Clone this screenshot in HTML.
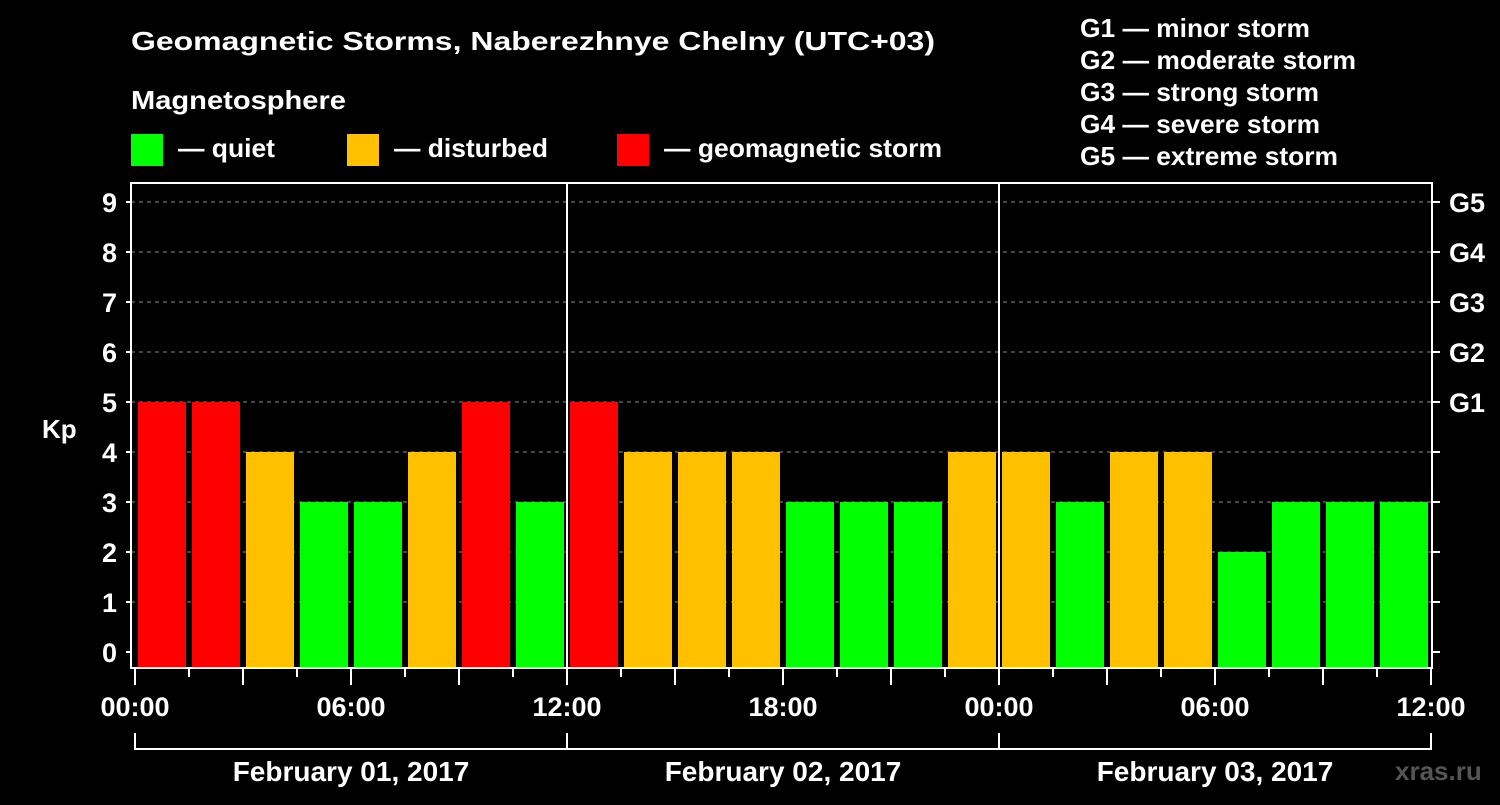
<!DOCTYPE html>
<html><head><meta charset="utf-8"><style>
body{margin:0;background:#000;width:1500px;height:800px;overflow:hidden}
svg text{font-family:"Liberation Sans",Arial,sans-serif;font-weight:bold;fill:#fff}
</style></head><body>
<svg id="chart" width="1500" height="800" xmlns="http://www.w3.org/2000/svg">
<text x="131" y="50" font-size="26" textLength="804" lengthAdjust="spacingAndGlyphs">Geomagnetic Storms, Naberezhnye Chelny (UTC+03)</text>
<text x="131" y="109" font-size="26" textLength="215" lengthAdjust="spacingAndGlyphs">Magnetosphere</text>
<g>
<rect x="131" y="134" width="32" height="32" fill="#00ff00"/>
<text x="178" y="157" font-size="26" textLength="97" lengthAdjust="spacingAndGlyphs">— quiet</text>
<rect x="347" y="134" width="32" height="32" fill="#ffc000"/>
<text x="394" y="157" font-size="26" textLength="154" lengthAdjust="spacingAndGlyphs">— disturbed</text>
<rect x="617" y="134" width="32" height="32" fill="#ff0000"/>
<text x="664" y="157" font-size="26" textLength="278" lengthAdjust="spacingAndGlyphs">— geomagnetic storm</text>
</g>
<g font-size="26">
<text x="1080" y="37" textLength="230" lengthAdjust="spacingAndGlyphs">G1 — minor storm</text>
<text x="1080" y="69" textLength="276" lengthAdjust="spacingAndGlyphs">G2 — moderate storm</text>
<text x="1080" y="101" textLength="239" lengthAdjust="spacingAndGlyphs">G3 — strong storm</text>
<text x="1080" y="133" textLength="240" lengthAdjust="spacingAndGlyphs">G4 — severe storm</text>
<text x="1080" y="165" textLength="258" lengthAdjust="spacingAndGlyphs">G5 — extreme storm</text>
</g>
<text x="42" y="438" font-size="26">Kp</text>
<text x="1395" y="780" font-size="26" style="fill:#555">xras.ru</text>
<g id="grid"></g><g id="bars"></g><g id="axes"></g>
</svg>
<script>
const kpValues=[5,5,4,3,3,4,5,3, 5,4,4,4,3,3,3,4, 4,3,4,4,2,3,3,3];
const dayLabels=["February 01, 2017","February 02, 2017","February 03, 2017"];
const hourLabels=["00:00","06:00","12:00","18:00"];
const yTicks=[0,1,2,3,4,5,6,7,8,9];
const gLabels=["G1","G2","G3","G4","G5"];
const NS="http://www.w3.org/2000/svg";
const x0=135,dayW=432,slotW=54,plotL=131,plotR=1432,plotT=183,plotB=668;
const yS=v=>652-50*v;
const xS=i=>x0+i*slotW;
function mk(tag,attrs,parent,txt){const e=document.createElementNS(NS,tag);for(const k in attrs)e.setAttribute(k,attrs[k]);if(txt!==undefined)e.textContent=txt;document.getElementById(parent).appendChild(e);return e;}
yTicks.forEach(v=>{
 if(v>0){const l=mk('line',{x1:plotL,x2:plotR,y1:yS(v),y2:yS(v),stroke:'#888','stroke-width':1,'stroke-dasharray':'4,4'},'grid');
 
 }
 const t=mk('line',{x1:plotL-5,x2:plotL,y1:yS(v),y2:yS(v),stroke:'#fff','stroke-width':2},'axes');
 
 
 const lb=mk('text',{x:plotL-14,y:yS(v)+10,'text-anchor':'end','font-size':27},'axes',String(v));
 
 
 const rt=mk('line',{x1:plotR,x2:plotR+8,y1:yS(v),y2:yS(v),stroke:'#fff','stroke-width':2},'axes');
 
 
 if(v>=5){const g=mk('text',{x:plotR+17,y:yS(v)+10,'font-size':27},'axes',gLabels[v-5]);
 
 }
});
kpValues.forEach((v,i)=>{
 const c=v>=5?'#ff0000':(v==4?'#ffc000':'#00ff00');
 const r=mk('rect',{x:xS(i)+3,y:yS(v),width:48,height:plotB-yS(v),fill:c},'bars');
 
 
});
const fr=mk('rect',{x:plotL,y:plotT,width:plotR-plotL,height:plotB-plotT,fill:'none',stroke:'#fff','stroke-width':2},'axes');


for(let d=1;d<dayLabels.length;d++){const l=mk('line',{x1:x0+d*dayW,x2:x0+d*dayW,y1:plotT,y2:plotB,stroke:'#fff','stroke-width':2},'axes');
 
 }
for(let i=0;i<=kpValues.length;i++){const major=i%2==0;
 const t=mk('line',{x1:xS(i),x2:xS(i),y1:plotB,y2:plotB+(major?17:9),stroke:'#fff','stroke-width':2},'axes');
 
 
 if(i%4==0){const lb=mk('text',{x:xS(i),y:716,'text-anchor':'middle','font-size':27},'axes',hourLabels[(i/4)%4]);
 
 }
}
const br=mk('path',{d:`M${x0} 733V749H${x0+3*dayW}V733`+[1,2].map(d=>`M${x0+d*dayW} 733V749`).join(''),stroke:'#fff','stroke-width':2,fill:'none'},'axes');


dayLabels.forEach((s,d)=>{const t=mk('text',{x:x0+d*dayW+dayW/2,y:781,'text-anchor':'middle','font-size':28},'axes',s);
 
 });
</script>
</body></html>
